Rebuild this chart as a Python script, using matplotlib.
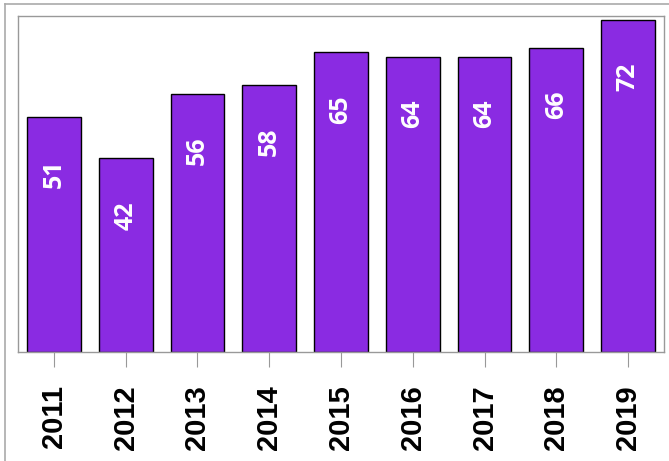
import matplotlib
matplotlib.use("Agg")
import matplotlib.pyplot as plt
from matplotlib.lines import Line2D
from matplotlib.font_manager import FontProperties

years = ["2011", "2012", "2013", "2014", "2015", "2016", "2017", "2018", "2019"]
values = [51, 42, 56, 58, 65, 64, 64, 66, 72]

W, H = 669, 461
fig = plt.figure(figsize=(W / 100, H / 100), dpi=100)
ax = fig.add_axes([18 / W, (H - 352) / H, (664 - 18) / W, (352 - 16) / H])

x = range(len(years))
ax.bar(x, values, width=0.75, color="#8a2be2", edgecolor="black", linewidth=1, zorder=2)
ax.set_xlim(-0.5, len(years) - 0.5)
ax.set_ylim(0, 72.9)

val_font = FontProperties(family="Open Sans", weight="bold", stretch="normal", size=18)
tick_font = FontProperties(family="Liberation Sans", weight="bold", stretch="normal", size=21)

for xi, v in zip(x, values):
    ax.annotate(str(v), (xi, v), xytext=(0, -41), textcoords="offset points",
                rotation=90, ha="center", va="center", color="white",
                fontproperties=val_font)

ax.set_xticks(list(x))
ax.set_xticklabels(years, rotation=90, fontproperties=tick_font)
ax.set_yticks([])
ax.tick_params(axis="x", length=11, color="#999999", pad=13)
for s in ax.spines.values():
    s.set_color("#999999")
    s.set_linewidth(1)

# outer frame
fig.add_artist(Line2D([4.5 / W, 4.5 / W], [0, 1 - 4.5 / H], color="#aaaaaa", lw=1.2))
fig.add_artist(Line2D([4.5 / W, 1], [1 - 4.5 / H, 1 - 4.5 / H], color="#aaaaaa", lw=1.2))

fig.savefig("out.png", dpi=100)
